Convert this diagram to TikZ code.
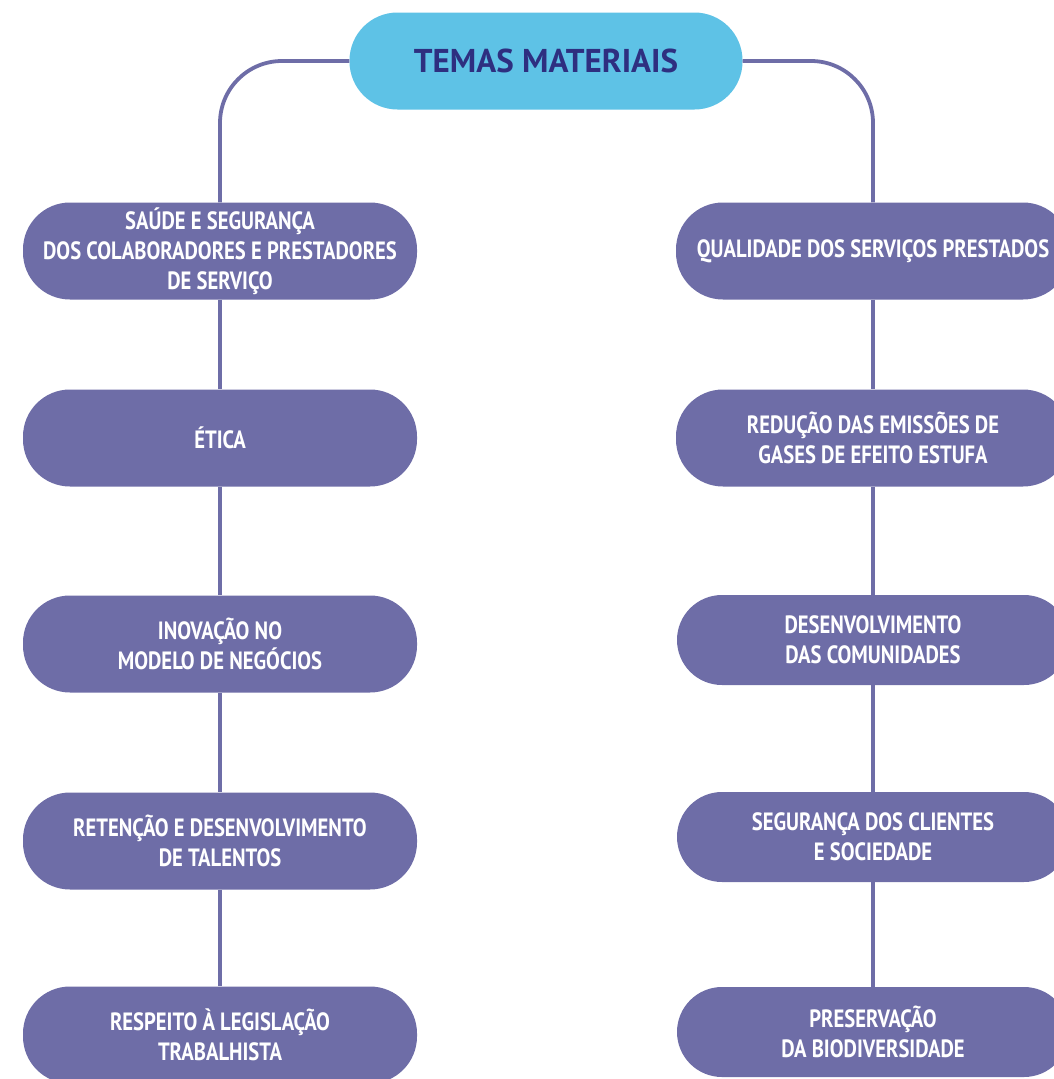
\documentclass[tikz,border=0pt]{standalone}
\usepackage{fontspec}
\setmainfont{PT Sans}
\newfontfamily\themefont{PT Sans}[FakeStretch=0.825]

\definecolor{temapurple}{HTML}{6E6DA7}
\definecolor{temacyan}{HTML}{5EC2E6}
\definecolor{temanavy}{HTML}{2E2F80}

\begin{document}
\begin{tikzpicture}[x=1pt, y=-1pt,
    tema/.style={fill=temapurple, text=white, rounded corners=47pt,
      minimum width=394pt, minimum height=97pt, inner sep=0pt, align=center,
      font=\themefont\bfseries\fontsize{25}{30}\selectfont},
    temab/.style={tema, minimum width=392pt, minimum height=90pt, rounded corners=45pt},
    link/.style={draw=temapurple, line width=3.8pt}]
  \useasboundingbox (0, 0) rectangle (1054, 1079);
  \clip (0, 0) rectangle (1054, 1079);

  \node[fill=temacyan, text=temanavy, rounded corners=48pt, minimum width=393pt,
    minimum height=97pt, font=\bfseries\fontsize{33}{38}\selectfont]
    (temas) at (546, 61) {TEMAS MATERIAIS};

  % coluna da esquerda
  \node[tema] (saude) at (220, 251) {SAÚDE E SEGURANÇA\\DOS COLABORADORES E PRESTADORES\\DE SERVIÇO};
  \node[tema] (etica) at (220, 438) {ÉTICA};
  \node[tema] (inovacao) at (220, 644) {INOVAÇÃO NO\\MODELO DE NEGÓCIOS};
  \node[tema] (retencao) at (220, 841) {RETENÇÃO E DESENVOLVIMENTO\\DE TALENTOS};
  \node[tema] (respeito) at (220, 1035) {RESPEITO À LEGISLAÇÃO\\TRABALHISTA};
  \draw[link, rounded corners=62pt] (temas.west) -| (saude.north);
  \draw[link] (saude) -- (etica);
  \draw[link] (etica) -- (inovacao);
  \draw[link] (inovacao) -- (retencao);
  \draw[link] (retencao) -- (respeito);

  % coluna da direita
  \node[tema] (qualidade) at (873, 251) {QUALIDADE DOS SERVIÇOS PRESTADOS};
  \node[tema] (reducao) at (873, 438) {REDUÇÃO DAS EMISSÕES DE\\GASES DE EFEITO ESTUFA};
  \node[temab] (comunidades) at (873, 640) {DESENVOLVIMENTO\\DAS COMUNIDADES};
  \node[temab] (clientes) at (873, 837) {SEGURANÇA DOS CLIENTES\\E SOCIEDADE};
  \node[temab] (biodiversidade) at (873, 1032) {PRESERVAÇÃO\\DA BIODIVERSIDADE};
  \draw[link, rounded corners=62pt] (temas.east) -| (qualidade.north);
  \draw[link] (qualidade) -- (reducao);
  \draw[link] (reducao) -- (comunidades);
  \draw[link] (comunidades) -- (clientes);
  \draw[link] (clientes) -- (biodiversidade);
\end{tikzpicture}
\end{document}
